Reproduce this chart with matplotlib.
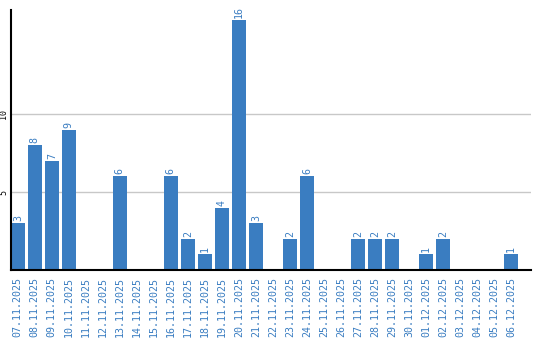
import matplotlib
matplotlib.use("Agg")
import matplotlib.pyplot as plt

# daily counts, 07.11.2025 - 06.12.2025
dates = ["07.11.2025", "08.11.2025", "09.11.2025", "10.11.2025", "11.11.2025",
         "12.11.2025", "13.11.2025", "14.11.2025", "15.11.2025", "16.11.2025",
         "17.11.2025", "18.11.2025", "19.11.2025", "20.11.2025", "21.11.2025",
         "22.11.2025", "23.11.2025", "24.11.2025", "25.11.2025", "26.11.2025",
         "27.11.2025", "28.11.2025", "29.11.2025", "30.11.2025", "01.12.2025",
         "02.12.2025", "03.12.2025", "04.12.2025", "05.12.2025", "06.12.2025"]
counts = [3, 8, 7, 9, 0, 0, 6, 0, 0, 6, 2, 1, 4, 16, 3,
          0, 2, 6, 0, 0, 2, 2, 2, 0, 1, 2, 0, 0, 0, 1]
y_ticks = [5, 10]

blue = "#3a7dc1"
mono = "DejaVu Sans Mono"

fig = plt.figure(figsize=(5.4, 3.4), dpi=100)
ax = fig.add_axes([10.7 / 540, 70 / 340, (531 - 10.7) / 540, 260 / 340])

xs = list(range(len(dates)))
ax.bar(xs, counts, width=0.84, color=blue, zorder=2)

for x, v in zip(xs, counts):
    if v > 0:
        ax.annotate(str(v), (x, v), xytext=(0, 1.5), textcoords="offset points",
                    rotation=90, ha="center", va="bottom", color=blue,
                    fontsize=7.2, family=mono)

ax.set_xlim(-0.42, 30.18)
ax.set_ylim(0, 16.67)

ax.set_xticks(xs)
ax.set_xticklabels(dates, rotation=90, color=blue, fontsize=7.2, family=mono)
ax.set_yticks(y_ticks)
ax.set_yticklabels([str(t) for t in y_ticks], rotation=90, va="center",
                   fontsize=6, family=mono)
ax.tick_params(axis="x", length=0, pad=5)
ax.tick_params(axis="y", length=0, pad=2)

ax.grid(axis="y", color="#c8c8c8", linewidth=1, zorder=0)
ax.spines["top"].set_visible(False)
ax.spines["right"].set_visible(False)
ax.spines["left"].set_linewidth(1.5)
ax.spines["bottom"].set_linewidth(1.5)

fig.savefig("out.png", dpi=100)
